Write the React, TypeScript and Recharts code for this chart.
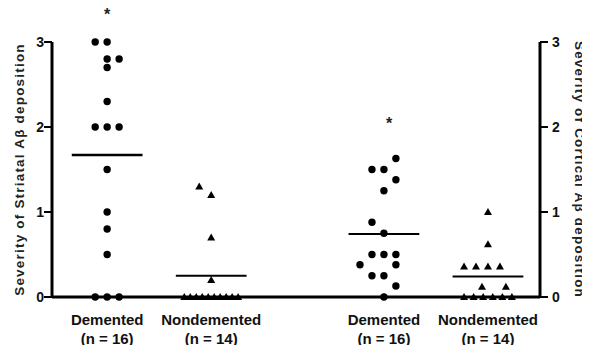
import {
  ScatterChart, Scatter, XAxis, YAxis, ReferenceLine, ReferenceDot,
} from 'recharts'

// group layout on the numeric x axis
const categories = ['Demented', 'Nondemented', 'Demented', 'Nondemented']
const groupSizes = ['(n = 16)', '(n = 14)', '(n = 16)', '(n = 14)']
const groupPositions = [1, 2, 3.66, 4.66]
const yTicks = [0, 1, 2, 3]

// striatal, demented (circles)
const striatalDementedValues = [3, 3, 2.8, 2.8, 2.7, 2.3, 2, 2, 2, 1.5, 1, 0.8, 0.5, 0, 0, 0]
const striatalDementedSlots = [-1, 0, 0, 1, 0, 0, -1, 0, 1, 0, 0, 0, 0, -1, 0, 1]

// striatal, nondemented (triangles)
const striatalNondementedValues = [1.3, 1.2, 0.7, 0.2, 0, 0, 0, 0, 0, 0, 0, 0, 0, 0]
const striatalNondementedSlots = [-1, 0, 0, 0, -2.25, -1.75, -1.25, -0.75, -0.25, 0.25, 0.75, 1.25, 1.75, 2.25]

// cortical, demented (circles)
const corticalDementedValues = [1.63, 1.5, 1.5, 1.38, 1.25, 0.88, 0.75, 0.5, 0.5, 0.5, 0.38, 0.38, 0.25, 0.25, 0.13, 0]
const corticalDementedSlots = [1, -1, 0, 1, 0, -1, 0, -1, 0, 1, -2, 1, -1, 0, 1, 0]

// cortical, nondemented (triangles)
const corticalNondementedValues = [1, 0.62, 0.36, 0.36, 0.36, 0.36, 0.12, 0.12, 0, 0, 0, 0, 0, 0]
const corticalNondementedSlots = [0, 0, -2, -1, 0, 1, -0.5, 1.5, -2, -1.2, -0.4, 0.4, 1.2, 2]

// group means as drawn (striatal pair, cortical pair)
const striatalMeans = [1.67, 0.25]
const corticalMeans = [0.74, 0.24]

// significance marks: group index, height
const sigGroups = [0, 2]
const sigHeights = [3.32, 2.04]
const sigShift = [0, 0.05]

const SLOT = 0.115
const HALF = 0.34
const FONT = '"Liberation Sans", Arial, sans-serif'

const toPoints = (group: number, values: number[], slots: number[]) =>
  values.map((v, i) => ({ x: groupPositions[group] + slots[i] * SLOT, y: v }))

const Dot = (props: any) => <circle cx={props.cx} cy={props.cy} r={3.7} fill="#000" />

const Tri = (props: any) => {
  const { cx, cy } = props
  return <path d={`M${cx},${cy - 4} L${cx + 4},${cy + 3} L${cx - 4},${cy + 3} Z`} fill="#000" />
}

const CategoryTick = (props: any) => {
  const { x, y, payload } = props
  const i = groupPositions.indexOf(payload.value)
  return (
    <g fontFamily={FONT} fontWeight="bold" fontSize={15} fill="#111">
      <text x={x} y={y + 20} textAnchor="middle">{categories[i]}</text>
      <text x={x} y={y + 39} textAnchor="middle">{groupSizes[i]}</text>
    </g>
  )
}

// rotated axis titles, placed from the plot box
const SideLabel = ({ text, side }: { text: string; side: 'left' | 'right' }) => (props: any) => {
  const vb = props.viewBox
  const cx = side === 'left' ? 19 : 579
  const cy = vb.y + vb.height / 2
  return (
    <text
      x={cx}
      y={cy}
      textAnchor="middle"
      dominantBaseline="central"
      transform={`rotate(${side === 'left' ? -90 : 90}, ${cx}, ${cy})`}
      fontFamily={FONT}
      fontWeight="bold"
      fontSize={13.5}
      letterSpacing={1.2}
      fill="#222"
    >
      {text}
    </text>
  )
}

const Asterisk = (props: any) => (
  <text x={props.cx} y={props.cy} textAnchor="middle" dominantBaseline="central"
    fontFamily={FONT} fontWeight="bold" fontSize={16} fill="#222">*</text>
)

export default function App() {
  const axisLine = { stroke: '#000', strokeWidth: 3 }
  const tickLine = { stroke: '#000', strokeWidth: 2 }
  const tickStyle = { fontFamily: FONT, fontWeight: 'bold', fontSize: 14, fill: '#111' }

  return (
    <div style={{ margin: -8, background: '#fff', width: 590, height: 353, overflow: 'hidden' }}>
      <ScatterChart width={590} height={353} margin={{ top: 42, right: 0, bottom: 0, left: 0 }}
        style={{ overflow: 'visible' }}>
        <XAxis
          type="number"
          dataKey="x"
          domain={[0.47, 5.16]}
          ticks={groupPositions}
          tick={<CategoryTick />}
          tickLine={false}
          axisLine={axisLine}
          height={56}
          allowDataOverflow
        />
        <YAxis
          yAxisId="left"
          type="number"
          dataKey="y"
          orientation="left"
          domain={[0, 3]}
          ticks={yTicks}
          width={52}
          tickSize={8}
          tickMargin={0}
          axisLine={axisLine}
          tickLine={tickLine}
          tick={tickStyle}
          label={{ content: SideLabel({ text: 'Severity of Striatal Aβ deposition', side: 'left' }) }}
        />
        <YAxis
          yAxisId="right"
          type="number"
          dataKey="y"
          orientation="right"
          domain={[0, 3]}
          ticks={yTicks}
          width={50}
          tickSize={8}
          tickMargin={4}
          axisLine={axisLine}
          tickLine={tickLine}
          tick={tickStyle}
          label={{ content: SideLabel({ text: 'Severity of Cortical Aβ deposition', side: 'right' }) }}
        />

        {striatalMeans.map((m, i) => (
          <ReferenceLine
            key={`sm${i}`}
            yAxisId="left"
            segment={[{ x: groupPositions[i] - HALF, y: m }, { x: groupPositions[i] + HALF, y: m }]}
            stroke="#000"
            strokeWidth={i === 0 ? 2.5 : 2}
          />
        ))}
        {corticalMeans.map((m, i) => (
          <ReferenceLine
            key={`cm${i}`}
            yAxisId="right"
            segment={[{ x: groupPositions[i + 2] - HALF, y: m }, { x: groupPositions[i + 2] + HALF, y: m }]}
            stroke="#000"
            strokeWidth={2}
          />
        ))}

        <Scatter yAxisId="left" data={toPoints(0, striatalDementedValues, striatalDementedSlots)}
          shape={Dot} isAnimationActive={false} />
        <Scatter yAxisId="left" data={toPoints(1, striatalNondementedValues, striatalNondementedSlots)}
          shape={Tri} isAnimationActive={false} />
        <Scatter yAxisId="right" data={toPoints(2, corticalDementedValues, corticalDementedSlots)}
          shape={Dot} isAnimationActive={false} />
        <Scatter yAxisId="right" data={toPoints(3, corticalNondementedValues, corticalNondementedSlots)}
          shape={Tri} isAnimationActive={false} />

        {sigGroups.map((g, i) => (
          <ReferenceDot
            key={`sig${i}`}
            yAxisId="left"
            x={groupPositions[g] + sigShift[i]}
            y={sigHeights[i]}
            r={0}
            ifOverflow="visible"
            shape={Asterisk}
          />
        ))}
      </ScatterChart>
    </div>
  )
}
